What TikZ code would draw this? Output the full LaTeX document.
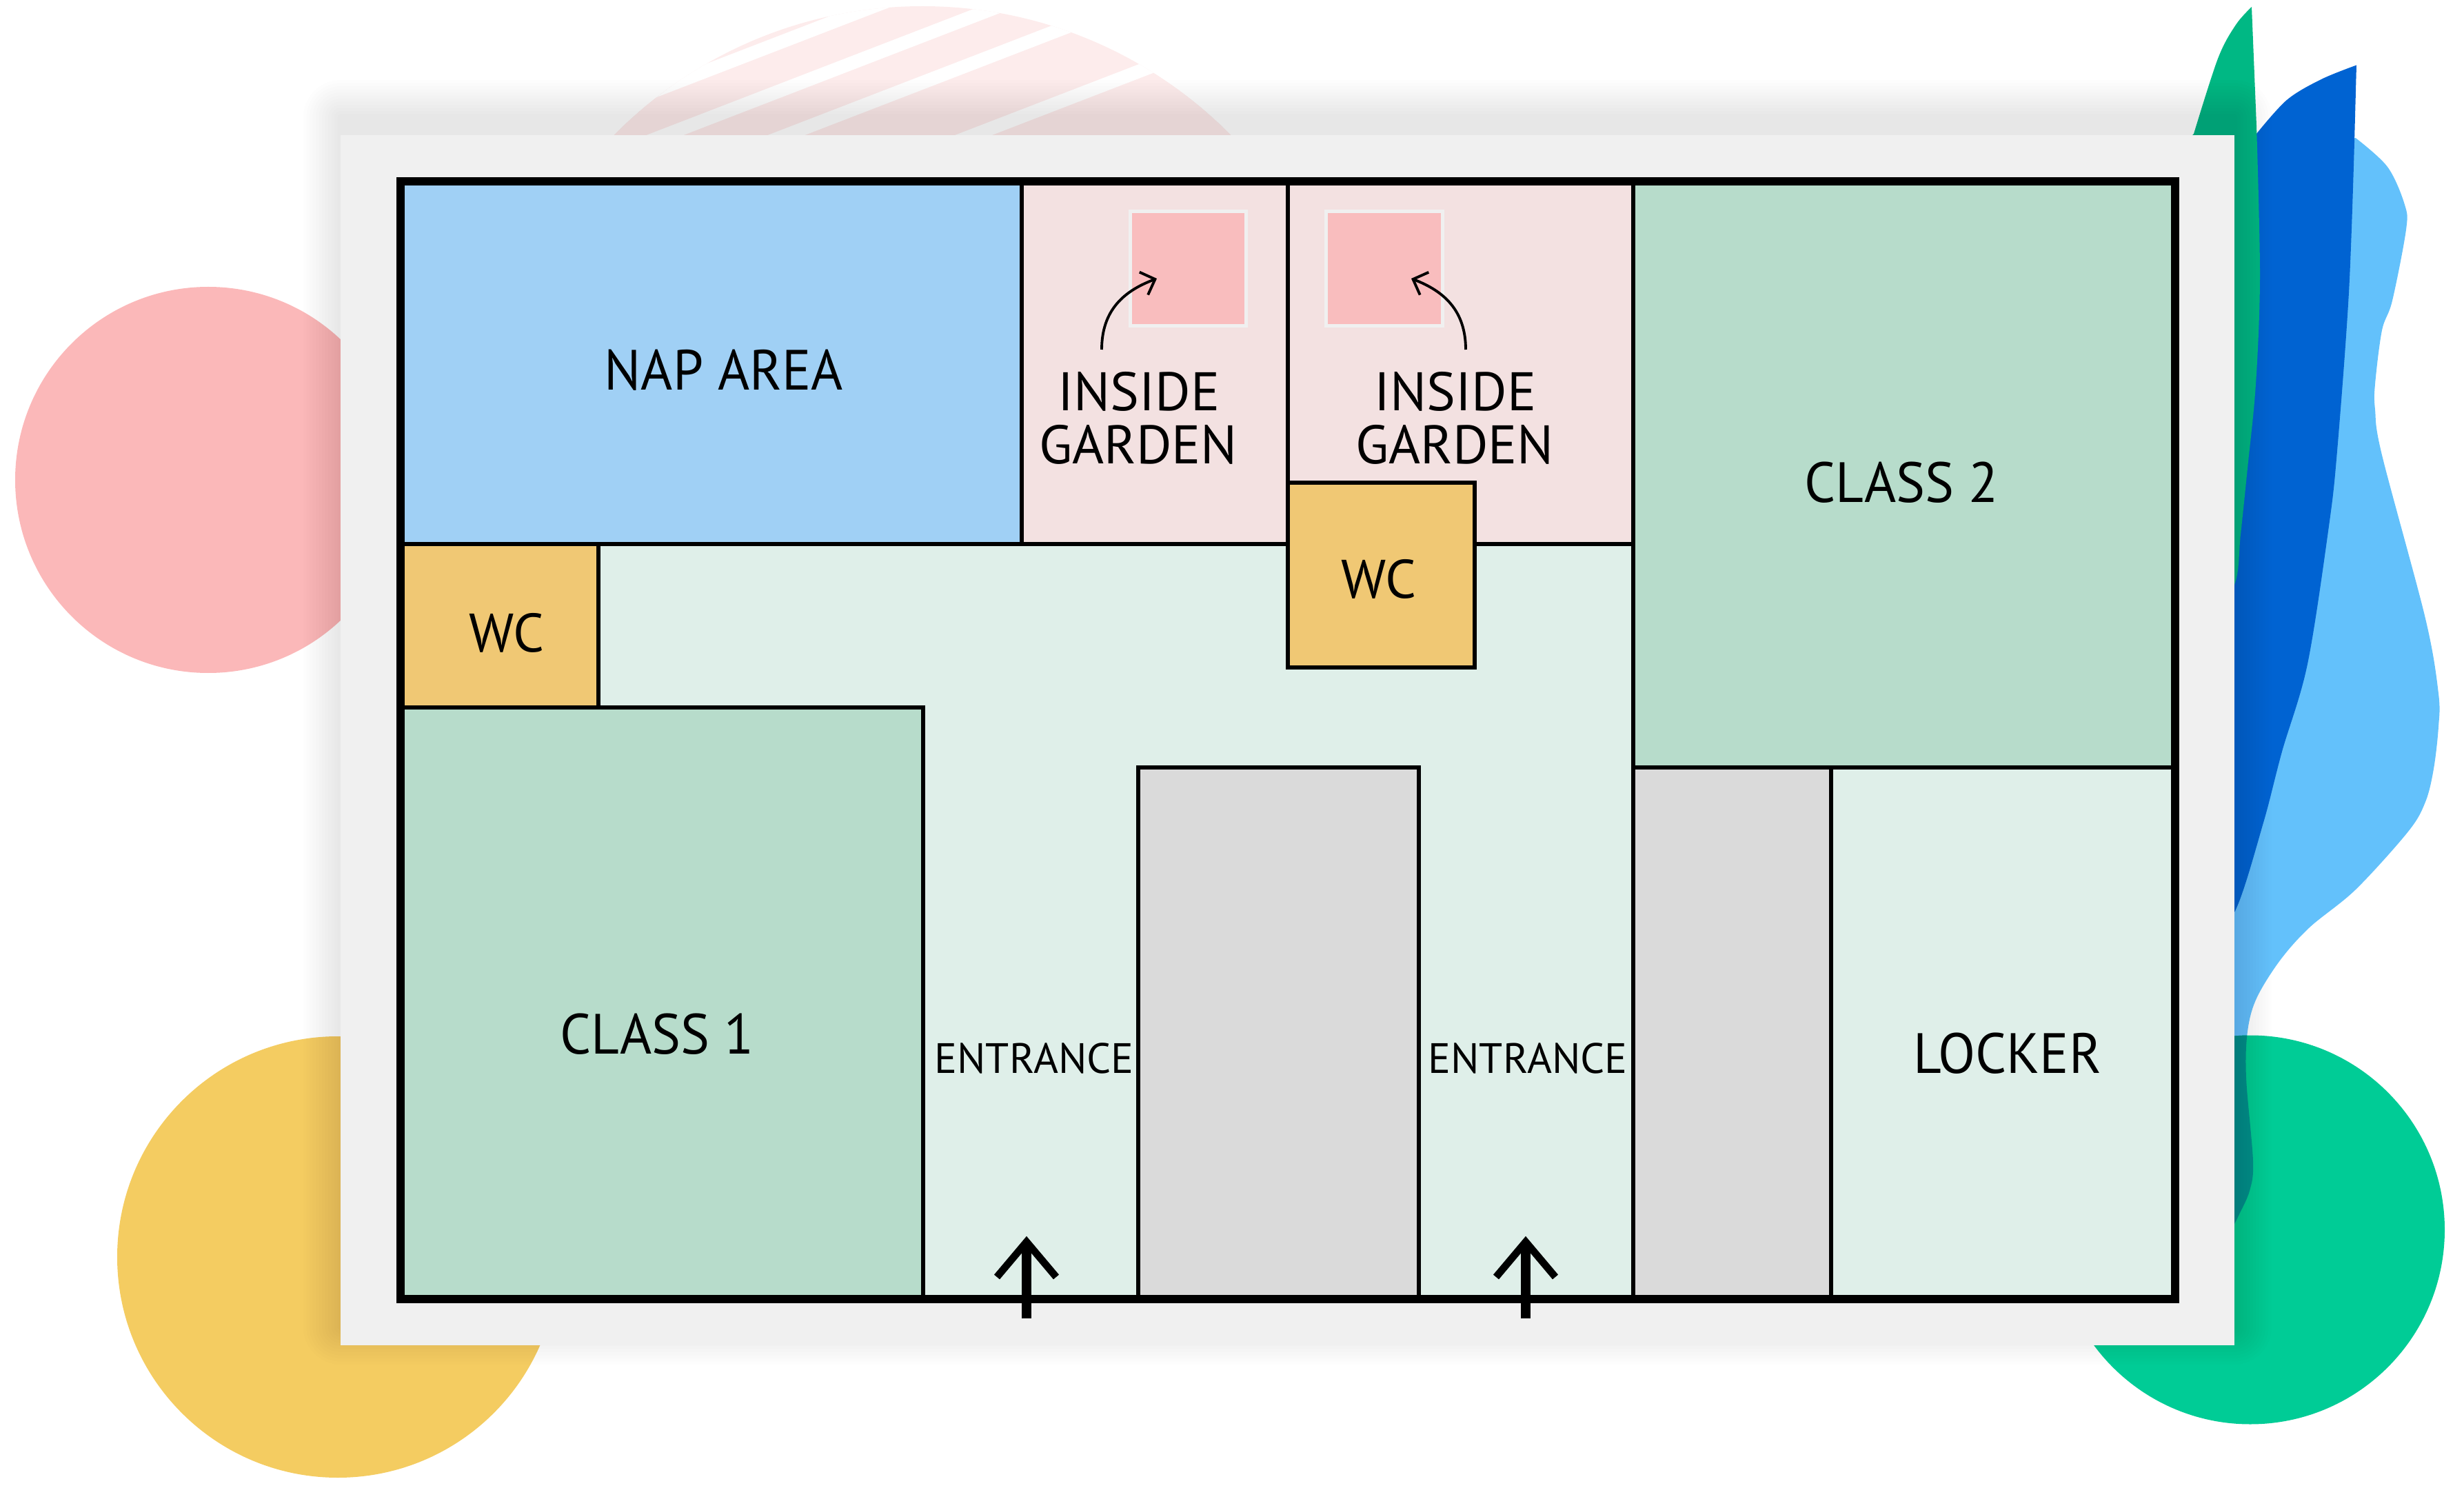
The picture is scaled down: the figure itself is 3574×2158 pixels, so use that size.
\documentclass[tikz,border=0pt]{standalone}
\usepackage{fontspec}
\setmainfont{PT Sans}
\newfontfamily\bigfam[FakeStretch=0.96]{PT Sans}
\usetikzlibrary{arrows.meta}
\definecolor{napc}{HTML}{A0D0F5}
\definecolor{gardc}{HTML}{F3E1E1}
\definecolor{sqc}{HTML}{F9BDBE}
\definecolor{sqb}{HTML}{F0F0F0}
\definecolor{classc}{HTML}{B7DCCB}
\definecolor{corrc}{HTML}{DFEFE9}
\definecolor{wcc}{HTML}{F0C874}
\definecolor{greyc}{HTML}{DADADA}
\definecolor{cardc}{HTML}{F0F0F0}
\definecolor{pinktop}{HTML}{FDECEC}
\definecolor{pinkc}{HTML}{FBB8B9}
\definecolor{yellowc}{HTML}{F4CC61}
\definecolor{lbluec}{HTML}{63C1FB}
\definecolor{dbluec}{HTML}{0063D2}
\definecolor{leafc}{HTML}{00B884}
\definecolor{greenc}{HTML}{00CC96}
\definecolor{tealc}{HTML}{00948F}
\newcommand\fsBig{\bigfam\fontsize{23.4}{27}\selectfont}
\newcommand\fsMid{\fontsize{22.4}{26}\selectfont}
\newcommand\fsSmall{\fontsize{17.5}{20}\selectfont}
\begin{document}
\begin{tikzpicture}[x=0.01cm,y=-0.01cm,
  room/.style={draw=black,line width=1.7pt},
  lblbig/.style={inner sep=0pt,font=\fsBig},
  lblmid/.style={inner sep=0pt,font=\fsMid},
  lblsmall/.style={inner sep=0pt,font=\fsSmall},
  gardenarrow/.style={line width=1.1pt,-{Straight Barb[length=5pt,width=10pt]}},
  entshaft/.style={line width=4pt},
  enthead/.style={line width=3pt,miter limit=10}]
\useasboundingbox (0,0) rectangle (3574,2158);
% ---------- background shapes ----------
\fill[pinktop] (1338,638) circle[radius=629];
\begin{scope}
  \clip (1338,638) circle[radius=629];
  \foreach \xc in {783,964.5,1140.5,1412}
    \draw[white,line width=5.5pt] (\xc-1400,736) -- (\xc+1400,-344);
\end{scope}
\fill[pinkc] (302,696) circle[radius=280];
\fill[yellowc] (490,1823) circle[radius=320];
% light blue
\fill[lbluec] (3150,260) -- plot[smooth,tension=0.55] coordinates {(3416.7,200) (3463,242) (3488,297) (3490,333) (3470,436) (3455,479) (3445,557) (3445,594) (3455,660) (3518,897) (3537,1006) (3537,1054) (3530,1115) (3518,1163) (3493,1206) (3417,1290) (3350,1345) (3307,1393) (3273,1448) (3260,1496) (3258,1563) (3268,1684) (3263,1727) (3247,1763) (3241,1775)} -- (3150,1800) -- cycle;
% dark blue
\fill[dbluec] (3200,1400) -- (3200,230) -- plot[smooth,tension=0.55] coordinates {(3273,194) (3317,145) (3367,115) (3418,94.5)} -- plot[smooth,tension=0.55] coordinates {(3415,206) (3407,424) (3390,654) (3378,763) (3347,963) (3310,1090) (3283,1193) (3242,1321) (3200,1360)} -- cycle;
% green leaf
\fill[leafc] (3150,230) -- plot[smooth,tension=0.55] coordinates {(3182,194) (3217,85) (3243,36) (3266,10)} -- plot[smooth,tension=0.55] coordinates {(3273,182) (3278,400) (3272,557) (3260,679) (3250,775) (3241,848) (3200,900)} -- cycle;
% green circle and overlap
\fill[greenc] (3264,1783.5) circle[radius=282];
\begin{scope}
  \clip (3264,1783.5) circle[radius=282];
  \fill[tealc] (3150,260) -- plot[smooth,tension=0.55] coordinates {(3416.7,200) (3463,242) (3488,297) (3490,333) (3470,436) (3455,479) (3445,557) (3445,594) (3455,660) (3518,897) (3537,1006) (3537,1054) (3530,1115) (3518,1163) (3493,1206) (3417,1290) (3350,1345) (3307,1393) (3273,1448) (3260,1496) (3258,1563) (3268,1684) (3263,1727) (3247,1763) (3241,1775)} -- (3150,1800) -- cycle;
\end{scope}
% ---------- card shadow and card ----------
\foreach \i in {1,...,12}{
  \pgfmathsetmacro\d{\i*4.5}
  \fill[black,opacity=0.0075,rounded corners=\d*0.2845pt] (494-\d,170-\d) rectangle (3241+\d,1925+\d);
}
\fill[cardc] (494,196) rectangle (3241,1951);
% ---------- floor plan ----------
\fill[corrc] (581,263) rectangle (3155,1884);
\draw[room,fill=napc] (581,263) rectangle (1482,789);
\draw[room,fill=gardc] (1482,263) rectangle (1868,789);
\draw[room,fill=gardc] (1868,263) rectangle (2369,789);
\draw[room,fill=classc] (2369,263) rectangle (3155,1113);
\draw[room,fill=wcc] (581,789) rectangle (868,1026);
\draw[room,fill=classc] (581,1026) rectangle (1339,1884);
\draw[room,fill=greyc] (1651,1113) rectangle (2058,1884);
\draw[room,fill=greyc] (2369,1113) rectangle (2656,1884);
\draw[room,fill=corrc] (2656,1113) rectangle (3155,1884);
\draw[room,fill=wcc] (1868,700) rectangle (2139,968);
\draw[draw=sqb,line width=1.4pt,fill=sqc] (1639.5,306.5) rectangle (1807.5,472.5);
\draw[draw=sqb,line width=1.4pt,fill=sqc] (1923.5,306.5) rectangle (2092.5,472.5);
\draw[line width=3.4pt] (581,263) rectangle (3155,1884);
% ---------- labels ----------
\node[lblbig] (nap) at (1050,537) {NAP AREA};
\node[lblmid] (ig1a) at (1652,568) {INSIDE};
\node[lblmid] (ig1b) at (1651,645) {GARDEN};
\node[lblmid] (ig2a) at (2111,568) {INSIDE};
\node[lblmid] (ig2b) at (2110,645) {GARDEN};
\node[lblbig] (cl2) at (2758,699.5) {CLASS 2};
\node[lblmid] (wc1) at (735,918) {WC};
\node[lblmid] (wc2) at (2000,839.5) {WC};
\node[lblbig] (cl1) at (953,1500) {CLASS 1};
\node[lblsmall] (ent1) at (1500,1534.5) {ENTRANCE};
\node[lblsmall] (ent2) at (2216,1534.5) {ENTRANCE};
\node[lblbig] (lock) at (2912,1527.6) {LOCKER};
% ---------- garden arrows ----------
\coordinate (ga1s) at (1598,507);
\coordinate (ga1e) at (1678,404);
\coordinate (ga2s) at (2126,507);
\coordinate (ga2e) at (2047,404);
\draw[gardenarrow] (ga1s) .. controls (1598,450) and (1630,422) .. (ga1e);
\draw[gardenarrow] (ga2s) .. controls (2126,450) and (2094,422) .. (ga2e);
% ---------- entrance arrows ----------
\coordinate (e1b) at (1489,1912);
\coordinate (e1t) at (1489,1801);
\coordinate (e1l) at (1446,1852);
\coordinate (e1r) at (1532,1852);
\coordinate (e2b) at (2213,1912);
\coordinate (e2t) at (2213,1801);
\coordinate (e2l) at (2170,1852);
\coordinate (e2r) at (2256,1852);
\draw[entshaft] (e1b) -- (e1t);
\draw[enthead] (e1l) -- (e1t) -- (e1r);
\draw[entshaft] (e2b) -- (e2t);
\draw[enthead] (e2l) -- (e2t) -- (e2r);
\end{tikzpicture}
\end{document}
